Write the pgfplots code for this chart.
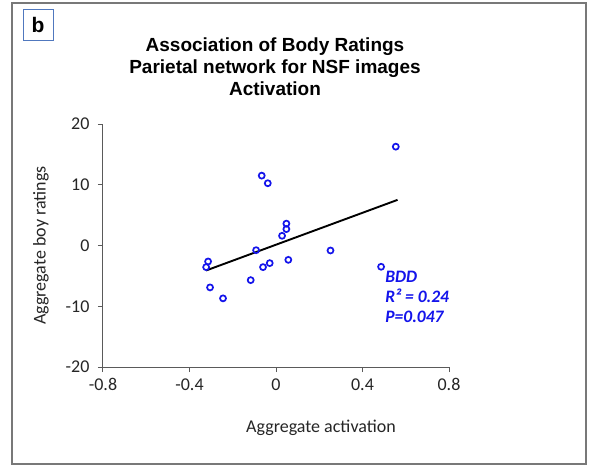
\documentclass[border=0pt]{standalone}
\usepackage{fontspec}
\setmainfont{Carlito}
\newfontfamily\arialf{Liberation Sans}
\usepackage{pgfplots}
\pgfplotsset{compat=1.18}
\definecolor{framegray}{RGB}{120,120,120}
\definecolor{axgray}{RGB}{90,90,90}
\definecolor{ptblue}{RGB}{20,20,235}
\definecolor{boxblue}{RGB}{80,120,190}
\begin{document}
\begin{tikzpicture}
\useasboundingbox (0pt,0pt) rectangle (594pt,467pt);
\fill[white] (0pt,0pt) rectangle (594pt,467pt);
\draw[framegray, line width=1.2pt] (12pt,3pt) rectangle (586pt,464pt);
\draw[boxblue, line width=1pt] (23pt,426pt) rectangle (53pt,457pt);
\node[font=\arialf\bfseries\fontsize{21}{24}\selectfont] at (38pt,442pt) {b};
\node[font=\arialf\bfseries\fontsize{19}{22}\selectfont, align=center] at (275pt,400pt)
  {Association of Body Ratings\\Parietal network for NSF images\\Activation};
\begin{axis}[
  at={(103pt,100pt)}, anchor=south west,
  scale only axis, width=346pt, height=243pt,
  xmin=-0.8, xmax=0.8, ymin=-20, ymax=20,
  xtick={-0.8,-0.4,0,0.4,0.8},
  xticklabels={-0.8,-0.4,0,0.4,0.8},
  ytick={-20,-10,0,10,20},
  yticklabels={-20,-10,0,10,20},
  axis x line*=bottom, axis y line*=left,
  axis line style={axgray, line width=1pt},
  tick style={axgray, line width=1pt},
  tick align=outside, major tick length=5pt,
  tick label style={font=\fontsize{18}{20}\selectfont, text=black!85},
  xticklabel style={yshift=-3pt},
  yticklabel style={xshift=-5pt},
  xlabel={Aggregate activation},
  ylabel={Aggregate boy ratings},
  label style={font=\fontsize{18}{20}\selectfont, text=black!85},
  xlabel style={yshift=-22pt, xshift=45pt},
  ylabel style={yshift=10pt},
  clip=false,
]
\addplot[only marks, mark=o, mark size=3pt, mark options={ptblue, line width=1.7pt}] coordinates {
(0.554,16.27) (-0.066,11.5) (-0.038,10.25) (0.048,3.6) (0.048,2.7) (0.028,1.6)
(-0.092,-0.77) (0.252,-0.82) (-0.314,-2.63) (-0.323,-3.56) (0.057,-2.36)
(-0.029,-2.9) (-0.06,-3.56) (0.486,-3.5) (-0.305,-6.9) (-0.117,-5.7) (-0.245,-8.7)
};
\addplot[black, line width=1.9pt] coordinates {(-0.323,-4.11) (0.562,7.51)};
\node[anchor=north west, align=left, text=ptblue, font=\bfseries\itshape\fontsize{17.5}{20}\selectfont, inner sep=0pt]
  at (axis cs:0.505,-4.2) {BDD\\R² = 0.24\\P=0.047};
\end{axis}
\end{tikzpicture}
\end{document}
